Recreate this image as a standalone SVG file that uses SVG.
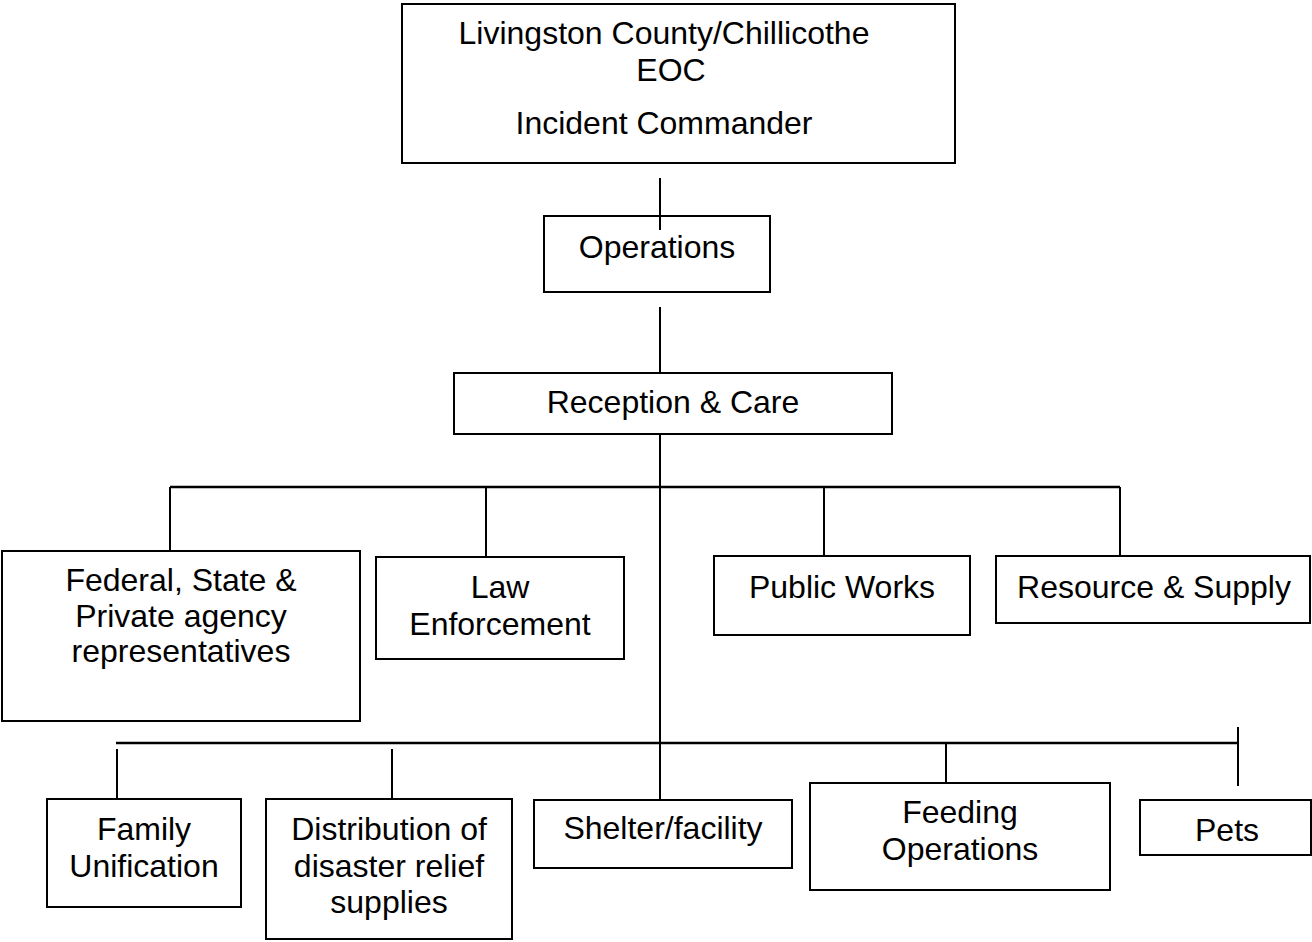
<svg xmlns="http://www.w3.org/2000/svg" width="1312" height="942" viewBox="0 0 1312 942">
  <style>
    .box { fill: #ffffff; stroke: #000000; stroke-width: 2; }
    .line { stroke: #000000; stroke-width: 2; fill: none; }
    .bus { stroke: #000000; stroke-width: 2.5; fill: none; }
    text { font-family: "Liberation Sans", Arial, sans-serif; font-size: 32px; fill: #000000; text-anchor: middle; }
  </style>
  <rect width="1312" height="942" fill="#ffffff"/>

  <!-- connectors -->
  <g id="connectors">
    <line class="line" x1="660" y1="178" x2="660" y2="230"/>
    <line class="line" x1="660" y1="307" x2="660" y2="373"/>
    <line class="line" x1="660" y1="434" x2="660" y2="805"/>
    <line class="bus" x1="170" y1="487" x2="1120" y2="487"/>
    <line class="line" x1="170" y1="487" x2="170" y2="551"/>
    <line class="line" x1="486" y1="487" x2="486" y2="557"/>
    <line class="line" x1="824" y1="487" x2="824" y2="556"/>
    <line class="line" x1="1120" y1="487" x2="1120" y2="556"/>
    <line class="bus" x1="116" y1="743" x2="1238" y2="743"/>
    <line class="line" x1="1238" y1="727" x2="1238" y2="786"/>
    <line class="line" x1="117" y1="749" x2="117" y2="801"/>
    <line class="line" x1="392" y1="749" x2="392" y2="801"/>
    <line class="line" x1="946" y1="743" x2="946" y2="804"/>
  </g>

  <g id="incident-commander">
    <rect class="box" x="402" y="4" width="553" height="159"/>
    <text x="664" y="44">Livingston County/Chillicothe</text>
    <text x="671" y="81">EOC</text>
    <text x="664" y="134">Incident Commander</text>
  </g>

  <g id="operations">
    <rect class="box" x="544" y="216" width="226" height="76" fill-opacity="0"/>
    <text x="657" y="258">Operations</text>
  </g>

  <g id="reception-care">
    <rect class="box" x="454" y="373" width="438" height="61"/>
    <text x="673" y="413">Reception &amp; Care</text>
  </g>

  <g id="agency-reps">
    <rect class="box" x="2" y="551" width="358" height="170"/>
    <text x="181" y="591">Federal, State &amp;</text>
    <text x="181" y="627">Private agency</text>
    <text x="181" y="662">representatives</text>
  </g>

  <g id="law-enforcement">
    <rect class="box" x="376" y="557" width="248" height="102"/>
    <text x="500" y="598">Law</text>
    <text x="500" y="635">Enforcement</text>
  </g>

  <g id="public-works">
    <rect class="box" x="714" y="556" width="256" height="79"/>
    <text x="842" y="598">Public Works</text>
  </g>

  <g id="resource-supply">
    <rect class="box" x="996" y="556" width="314" height="67"/>
    <text x="1154" y="598">Resource &amp; Supply</text>
  </g>

  <g id="family-unification">
    <rect class="box" x="47" y="799" width="194" height="108"/>
    <text x="144" y="840">Family</text>
    <text x="144" y="877">Unification</text>
  </g>

  <g id="distribution">
    <rect class="box" x="266" y="799" width="246" height="140"/>
    <text x="389" y="840">Distribution of</text>
    <text x="389" y="877">disaster relief</text>
    <text x="389" y="913">supplies</text>
  </g>

  <g id="shelter">
    <rect class="box" x="534" y="800" width="258" height="68"/>
    <text x="663" y="839">Shelter/facility</text>
  </g>

  <g id="feeding">
    <rect class="box" x="810" y="783" width="300" height="107"/>
    <text x="960" y="823">Feeding</text>
    <text x="960" y="860">Operations</text>
  </g>

  <g id="pets">
    <rect class="box" x="1140" y="800" width="171" height="55"/>
    <text x="1227" y="841">Pets</text>
  </g>
</svg>
